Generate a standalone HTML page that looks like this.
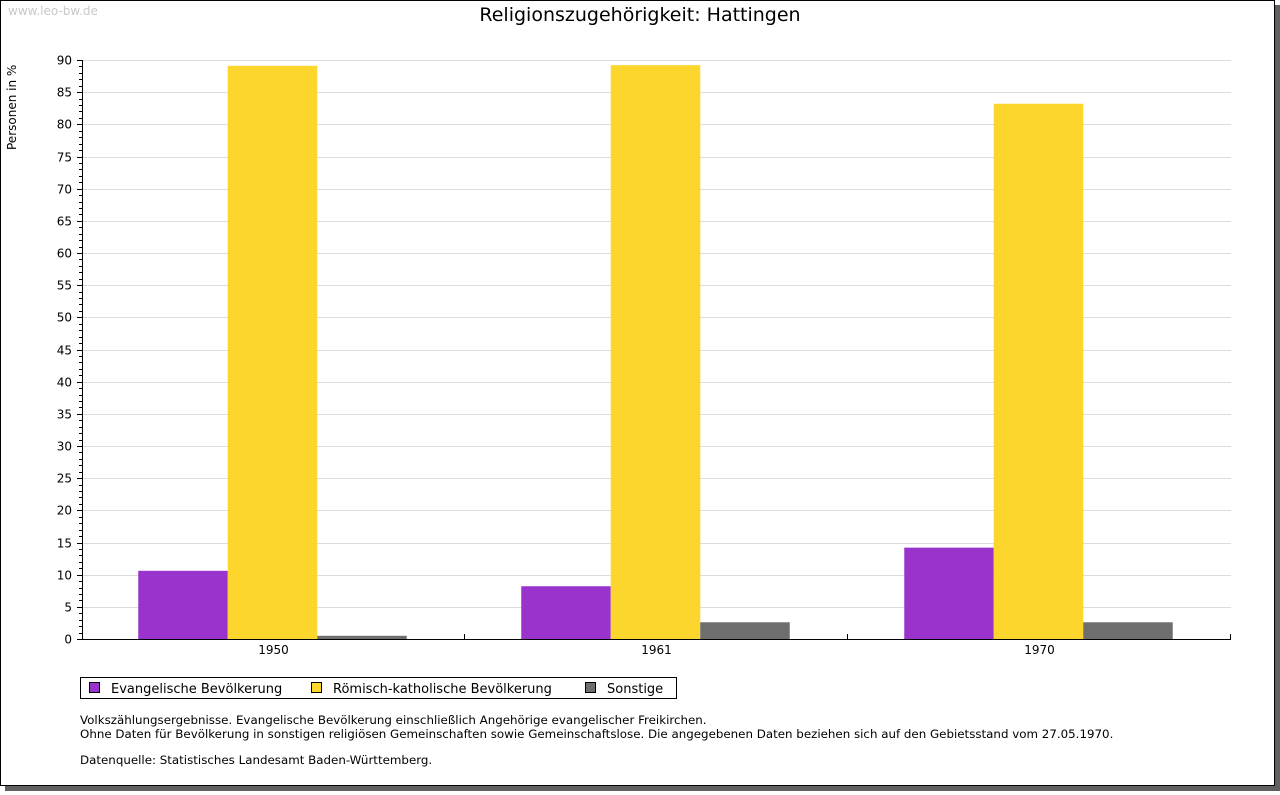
<!DOCTYPE html>
<html><head><meta charset="utf-8"><style>
html,body{margin:0;padding:0;background:#fff;}
body{width:1280px;height:791px;overflow:hidden;font-family:"DejaVu Sans","Liberation Sans",sans-serif;}
</style></head><body>
<svg id="chart" width="1280" height="791" xmlns="http://www.w3.org/2000/svg" font-family="DejaVu Sans, Liberation Sans, sans-serif">
<rect x="5" y="5" width="1275" height="786" fill="#606060"/>
<rect x="0.5" y="0.5" width="1274" height="785" fill="#fff" stroke="#000"/>
<text x="8" y="15" font-size="12" fill="#c8c8c8">www.leo-bw.de</text>
<text x="640" y="21" font-size="19" text-anchor="middle" fill="#000">Religionszugehörigkeit: Hattingen</text>
<text transform="translate(16,150) rotate(-90)" font-size="12" fill="#000">Personen in %</text>
<g id="grid"></g><g id="bars"></g><g id="axes"></g>
<g>
<rect x="80.5" y="677.5" width="596" height="21" fill="#fff" stroke="#000"/>
<g><rect x="89.5" y="682.5" width="10" height="10" fill="#9933cc" stroke="#000"/><text x="111" y="693" font-size="13">Evangelische Bevölkerung</text></g>
<g><rect x="311.5" y="682.5" width="10" height="10" fill="#fcd62d" stroke="#000"/><text x="333" y="693" font-size="13">Römisch-katholische Bevölkerung</text></g>
<g><rect x="585.5" y="682.5" width="10" height="10" fill="#6e6e6e" stroke="#000"/><text x="607" y="693" font-size="13">Sonstige</text></g>
</g>
<g font-size="11.85" fill="#000">
<text x="80" y="724">Volkszählungsergebnisse. Evangelische Bevölkerung einschließlich Angehörige evangelischer Freikirchen.</text>
<text x="80" y="738">Ohne Daten für Bevölkerung in sonstigen religiösen Gemeinschaften sowie Gemeinschaftslose. Die angegebenen Daten beziehen sich auf den Gebietsstand vom 27.05.1970.</text>
<text x="80" y="764">Datenquelle: Statistisches Landesamt Baden-Württemberg.</text>
</g>
</svg>
<script>
const categories = ["1950", "1961", "1970"];
const evangelisch = [10.6, 8.2, 14.2];
const katholisch = [89.1, 89.2, 83.2];
const sonstige = [0.5, 2.6, 2.6];
const yTicks = [0,5,10,15,20,25,30,35,40,45,50,55,60,65,70,75,80,85,90];

const NS = "http://www.w3.org/2000/svg";
const X0 = 82, X1 = 1231, Y0 = 639, Y1 = 60, YMAX = 90;
const yS = v => Y0 - (v / YMAX) * (Y0 - Y1);
const gw = (X1 - X0) / categories.length;
const bw = 89.5;
const pad = (gw - 3 * bw) / 2 - 1;
function mk(tag, attrs, parent) { const e = document.createElementNS(NS, tag); for (const k in attrs) e.setAttribute(k, attrs[k]); parent.appendChild(e); return e; }
const grid = document.getElementById('grid'), bars = document.getElementById('bars'), axes = document.getElementById('axes');
yTicks.forEach(t => {
  const y = Math.round(yS(t)) + 0.5;
  if (t > 0) {
    const l = mk('line', {x1: X0, x2: X1, y1: y, y2: y, stroke: '#dcdcdc'}, grid);
    
    
  }
  mk('line', {x1: X0 - 5, x2: X0, y1: y, y2: y, stroke: '#000'}, axes);
  const tx = mk('text', {x: 72, y: y + 4, 'font-size': 12, 'text-anchor': 'end'}, axes);
  tx.textContent = t;
  
  
});
for (let v = 1; v < YMAX; v++) {
  if (v % 5 === 0) continue;
  const y = Math.round(yS(v)) + 0.5;
  mk('line', {x1: X0 - 3, x2: X0, y1: y, y2: y, stroke: '#000'}, axes);
}
const series = [[evangelisch, '#9933cc', 'evangelisch'], [katholisch, '#fcd62d', 'katholisch'], [sonstige, '#6e6e6e', 'sonstige']];
categories.forEach((c, i) => {
  const gx = X0 + i * gw;
  series.forEach((s, j) => {
    const v = s[0][i];
    const r = mk('rect', {x: gx + pad + j * bw, y: yS(v), width: bw, height: Y0 - yS(v), fill: s[1]}, bars);
    
    
  });
  const lbl = mk('text', {x: gx + gw / 2, y: 654, 'font-size': 12, 'text-anchor': 'middle'}, axes);
  lbl.textContent = c;
  
  
  const tx = Math.round(gx + gw) - 0.5;
  mk('line', {x1: tx, x2: tx, y1: Y0 - 5, y2: Y0, stroke: '#000'}, axes);
});
const ya = mk('line', {x1: X0 + 0.5, x2: X0 + 0.5, y1: Y1, y2: Y0 + 1, stroke: '#000'}, axes);


const xa = mk('line', {x1: X0, x2: X1, y1: Y0 + 0.5, y2: Y0 + 0.5, stroke: '#000'}, axes);


</script>
</body></html>
